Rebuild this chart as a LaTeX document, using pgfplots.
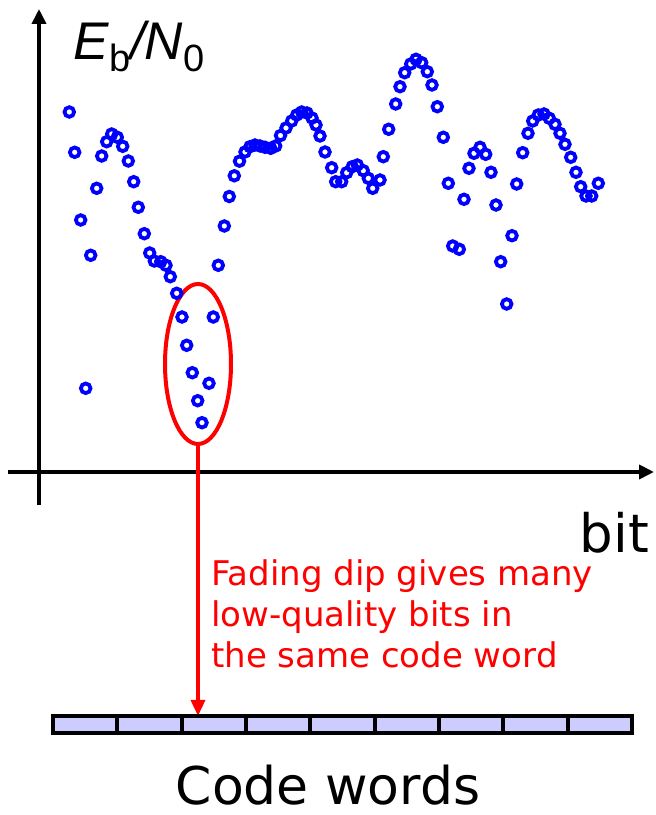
\documentclass[border=0pt]{standalone}
\usepackage{pgfplots}
\pgfplotsset{compat=1.18}
\usepackage{fontspec}
\setmainfont{DejaVu Sans}
\newfontfamily\arial{Liberation Sans}
\usetikzlibrary{arrows.meta}
\pgfplotstableread{
x y
30.3 360
35.7 319.7
41.7 252
46.7 83.7
51.7 216.7
57.7 283.7
62.7 316
67.7 330.3
72.7 338
78.3 334.7
83.7 325.7
89.3 311
94.7 290.3
99.3 264.7
105.3 238.3
110.7 219
115.3 211
121.7 210.3
127 206.7
131.3 195.3
137.7 178.7
143 155
147.7 126.7
153.3 99.3
158.7 71.3
163 49.3
170 88.7
174.3 155
179.3 206.7
185.3 246
190.3 275.5
195.3 296.2
200.5 310.8
206 320
211 325.3
216 327
221 326
226 324.7
231.7 323.7
236.7 326
241.5 336.5
247 344
252.7 351
257.7 357
262.7 360
268 359
273 354
277 347
281 336
286 320
292.7 304.3
296.7 290.3
302.7 290.3
307.7 299.3
313.3 305.3
318.3 307
324.3 301.3
329.3 293.7
333.7 283.7
341 292
344.3 315.3
349.7 342.7
356.7 368
361 385.3
365.7 399.3
371.7 408
377 412.7
382.7 409.3
388.3 400.3
393 387
398.3 365.3
404.3 334.7
409.3 288.7
413.7 226
420.3 222.7
425 272.7
430 303.7
435 318.7
441 324.7
446.7 317.7
452 299.7
457 267
461.7 210.3
467.7 168
473 236.3
477.7 288
483.7 319.3
489 338.7
493.7 351
499.3 357
505 358
510.3 353.7
516 347.7
521 338.7
526 327.7
531.7 314.7
537 299.7
541.7 285.3
547 276
552.7 276
559.3 288.7
}\ebnodata
\definecolor{pureblue}{RGB}{0,0,255}
\begin{document}
\begin{tikzpicture}
\begin{axis}[
  width=655pt, height=815pt, scale only axis,
  xmin=-39, xmax=616, ymin=-343, ymax=472,
  axis lines=none, clip=false,
]
% full-size bounding box
\path (axis cs:-39,-343) rectangle (axis cs:616,472);
% axes
\draw[line width=4pt, -{Triangle[length=15pt,width=14pt]}] (axis cs:-31,0) -- (axis cs:615,0);
\draw[line width=4pt, -{Triangle[length=15pt,width=14pt]}] (axis cs:0,-33) -- (axis cs:0,463);
% data
\addplot[only marks, pureblue, mark=o, mark size=4.8pt,
  mark options={draw=pureblue, line width=3.8pt, solid}] table[x=x,y=y] {\ebnodata};
% ellipse and arrow
\draw[red, line width=4pt] (axis cs:159,108) ellipse [x radius=33, y radius=80];
\draw[red, line width=3.5pt, -{Triangle[length=16pt,width=14pt]}] (axis cs:159,28) -- (axis cs:159,-244);
% code words
\draw[fill=blue!20, line width=4pt] (axis cs:14,-244) rectangle (axis cs:593,-261);
\draw[line width=4pt] (axis cs:78.3,-244) -- (axis cs:78.3,-261);
\draw[line width=4pt] (axis cs:142.7,-244) -- (axis cs:142.7,-261);
\draw[line width=4pt] (axis cs:207,-244) -- (axis cs:207,-261);
\draw[line width=4pt] (axis cs:271.3,-244) -- (axis cs:271.3,-261);
\draw[line width=4pt] (axis cs:335.7,-244) -- (axis cs:335.7,-261);
\draw[line width=4pt] (axis cs:400,-244) -- (axis cs:400,-261);
\draw[line width=4pt] (axis cs:464.3,-244) -- (axis cs:464.3,-261);
\draw[line width=4pt] (axis cs:528.7,-244) -- (axis cs:528.7,-261);
% labels
\node[anchor=base west, inner sep=0pt] at (axis cs:34,412)
  {\fontsize{53}{53}\selectfont\arial\textit{E}\raisebox{-0.22em}{\fontsize{38}{38}\selectfont b}\textit{/N}\raisebox{-0.22em}{\fontsize{38}{38}\selectfont 0}};
\node[anchor=base east, inner sep=0pt] at (axis cs:610,-81)
  {\fontsize{53}{53}\selectfont bit};
\node[anchor=base west, inner sep=0pt, red] at (axis cs:172,-113.7) {\fontsize{34}{34}\selectfont Fading dip gives many};
\node[anchor=base west, inner sep=0pt, red] at (axis cs:172,-155) {\fontsize{34}{34}\selectfont low-quality bits in};
\node[anchor=base west, inner sep=0pt, red] at (axis cs:172,-196) {\fontsize{34}{34}\selectfont the same code word};
\node[anchor=base, inner sep=0pt] at (axis cs:289,-333)
  {\fontsize{52}{52}\selectfont Code words};
\end{axis}
\end{tikzpicture}
\end{document}
